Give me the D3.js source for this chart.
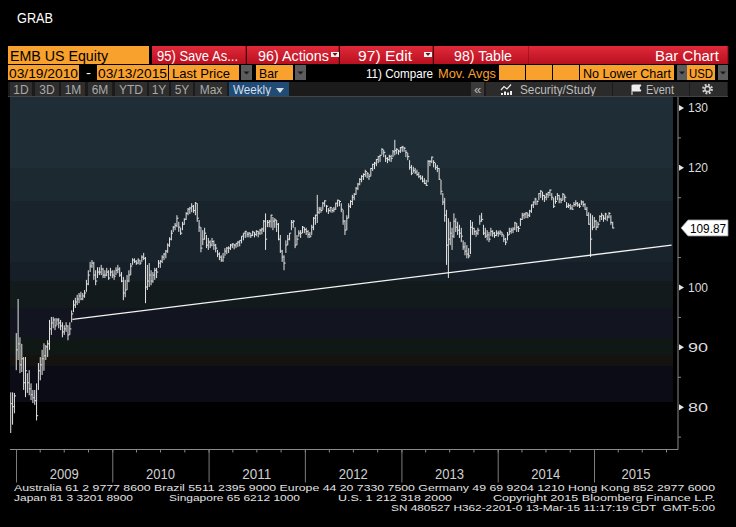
<!DOCTYPE html>
<html><head><meta charset="utf-8">
<script src="https://cdn.jsdelivr.net/npm/d3@7"></script>
<style>
html,body{margin:0;padding:0;background:#000;}
svg{display:block;}
text{font-family:"Liberation Sans",Arial,sans-serif;}
</style></head>
<body>
<svg id="c" width="736" height="527"></svg>
<script>
// ---------------- DATA ----------------
const firstWeek = "2008-12-12";   // weekly bars (Fridays)
const highs = [
82.4,82.4,82.3,92.3,98.0,91.6,90.5,88.3,88.3,85.6,
86.1,83.9,82.8,82.8,83.9,87.3,88.3,89.5,90.6,90.3,
91.1,94.5,95.0,95.0,94.8,94.8,94.8,94.5,94.1,93.6,
94.1,93.6,94.1,96.1,97.8,98.2,98.7,99.0,99.2,99.0,
99.5,101.2,102.8,104.2,104.5,104.2,102.8,103.3,103.3,103.7,
103.2,102.8,103.2,102.8,103.2,102.8,102.8,103.3,103.7,103.3,
102.5,101.7,101.2,102.0,102.8,104.0,104.8,104.8,104.5,104.8,
104.5,105.3,105.7,105.0,103.7,104.0,102.8,102.5,103.2,103.2,
104.5,104.5,105.3,105.7,106.2,107.3,108.3,109.5,110.2,110.7,
112.0,110.9,109.9,110.9,111.5,112.5,113.2,113.4,114.0,113.7,
114.2,114.0,111.2,110.0,109.5,109.9,108.7,108.2,107.8,108.2,
107.8,107.2,106.2,105.8,105.3,105.7,106.5,106.7,106.8,107.2,
107.3,107.2,107.3,107.7,107.8,108.5,109.0,109.4,109.2,109.2,
109.0,109.4,109.2,109.5,109.4,109.7,109.9,111.2,112.3,111.2,
111.2,112.1,111.7,111.5,111.2,110.7,108.7,106.2,105.3,107.8,
108.7,109.0,111.2,111.2,110.0,108.7,109.5,109.5,110.2,110.0,
109.9,109.5,109.2,110.4,111.7,112.1,115.4,113.4,113.4,114.2,
114.5,113.7,113.2,113.4,113.2,113.4,114.1,114.6,114.5,114.0,
112.9,111.2,112.0,114.0,114.5,115.4,115.7,116.7,117.4,118.2,
118.7,119.0,119.6,119.2,118.9,119.9,120.6,120.9,121.4,121.9,
122.1,123.2,122.9,122.1,121.7,122.1,122.1,122.9,124.6,123.2,
122.9,123.4,123.6,123.4,122.9,122.4,121.2,120.4,120.1,119.9,
119.6,119.2,118.7,118.6,118.2,117.9,121.2,121.2,121.8,121.2,
120.7,120.4,119.9,117.9,115.7,114.9,112.9,111.5,110.9,109.9,
112.3,111.5,110.9,110.4,109.9,107.8,107.5,107.0,106.5,111.2,
110.9,109.9,109.5,109.9,112.0,112.4,110.4,109.9,109.5,109.2,
109.9,109.5,109.2,109.5,109.4,109.5,109.2,108.7,108.2,109.2,
109.9,109.9,110.0,110.9,110.7,110.2,111.5,112.4,112.4,112.5,
112.4,112.9,113.8,114.3,114.9,114.5,115.7,116.2,115.9,115.4,
115.7,115.9,116.3,115.7,114.9,115.2,115.7,115.4,114.9,115.7,
115.4,114.2,114.0,113.9,113.7,114.2,114.5,114.2,114.0,114.5,
114.4,114.0,113.4,112.5,112.3,112.0,111.7,111.2,110.9,112.0,
112.4,112.0,112.4,112.0,112.5,112.0,110.9];
const lows = [
75.6,77.0,78.9,86.1,87.8,85.6,85.8,82.8,81.6,82.3,
81.9,81.1,80.6,80.3,77.7,82.8,84.4,85.3,86.0,87.8,
88.3,89.5,92.0,93.1,92.8,93.6,93.1,92.8,91.6,92.0,
92.5,91.1,92.0,94.1,95.8,96.5,97.0,97.3,97.8,97.8,
98.2,99.2,100.3,102.5,103.2,101.2,100.3,101.5,102.0,102.0,
101.5,101.5,101.8,101.2,101.8,101.5,101.2,102.0,102.3,101.7,
100.8,97.8,98.3,99.5,100.8,102.0,103.7,104.0,103.7,103.8,
103.7,104.2,104.5,97.3,99.5,100.0,100.3,100.7,101.2,101.5,
103.2,103.2,104.0,104.5,104.8,105.7,106.7,107.8,109.2,109.5,
110.0,109.2,108.7,109.5,110.4,111.2,112.0,112.2,112.5,112.4,
112.0,110.9,109.2,105.8,107.0,107.9,106.5,106.2,106.5,106.8,
106.2,105.8,105.0,104.5,104.2,104.2,105.2,105.5,105.7,106.2,
106.5,106.3,106.5,106.7,106.8,107.3,107.8,108.2,108.3,108.3,
108.2,108.5,108.3,108.5,108.3,108.7,108.8,109.2,106.2,110.0,
110.0,109.9,109.5,109.9,109.2,107.8,105.7,104.2,102.8,105.7,
107.0,107.8,109.5,109.9,106.5,107.0,108.4,108.2,109.0,109.0,
108.7,108.2,108.2,108.7,109.5,110.4,110.7,112.2,112.4,112.9,
113.4,112.5,112.2,112.5,112.4,112.5,112.9,113.4,113.5,112.5,
110.4,108.7,109.5,111.5,113.2,113.7,114.5,115.4,116.2,117.0,
117.5,117.9,118.4,118.2,117.9,118.5,119.4,119.7,120.2,120.7,
120.9,122.1,121.7,120.9,120.7,121.0,120.9,121.7,122.0,122.2,
122.1,122.4,122.6,122.6,121.7,121.2,119.6,118.7,119.1,118.9,
118.6,118.2,117.9,117.5,117.2,116.9,117.5,120.2,120.7,120.0,
119.6,119.2,117.9,115.4,113.7,110.9,103.7,101.5,107.0,106.2,
108.2,109.2,108.7,108.2,107.5,106.2,105.3,104.8,104.8,105.5,
108.7,108.7,108.4,108.7,110.4,110.9,108.7,108.2,107.8,107.5,
108.5,108.4,108.2,108.5,108.4,108.7,108.4,107.5,107.0,107.8,
108.7,108.9,109.0,109.5,109.2,109.2,110.2,111.2,111.4,111.5,
111.5,111.7,112.4,113.2,113.7,113.7,114.5,114.9,114.5,114.2,
114.5,114.9,115.2,114.5,113.2,113.9,114.5,114.0,114.0,114.5,
114.2,113.2,113.2,112.9,112.9,113.4,113.5,113.4,113.2,113.7,
113.4,112.9,111.9,110.4,105.0,109.5,109.9,109.5,109.9,110.9,
111.2,110.9,111.2,111.0,111.5,110.4,109.8];
const closes = [
80.5,80.0,81.8,89.5,90.5,87.0,88.0,84.0,86.0,84.0,
83.0,82.0,81.5,81.0,78.5,86.0,87.0,88.0,88.5,90.0,
90.5,93.0,94.0,94.5,93.5,94.5,94.0,93.5,92.5,93.0,
93.5,92.0,93.0,95.5,97.0,97.5,98.0,98.5,98.0,98.5,
99.0,100.5,102.0,103.5,104.0,102.0,101.0,102.5,102.5,103.0,
102.0,102.0,102.5,101.5,102.5,102.0,101.8,102.8,103.0,102.0,
101.0,99.0,99.5,101.0,102.0,103.5,104.5,104.3,104.0,104.5,
104.0,105.0,104.8,100.0,101.0,102.0,101.0,102.0,102.8,102.5,
104.0,104.3,105.0,105.5,106.0,107.0,108.0,109.0,110.0,110.3,
111.5,110.0,109.0,110.5,111.3,112.3,113.0,113.2,113.5,112.8,
114.0,111.5,110.0,106.5,108.0,109.0,107.0,107.5,107.0,107.6,
107.0,106.5,105.5,105.0,104.5,105.0,106.0,106.5,106.5,107.0,
107.2,107.0,107.3,107.5,107.8,108.5,109.0,109.3,108.8,109.0,
108.6,109.2,108.8,109.3,109.0,109.5,109.7,111.0,108.0,110.8,
111.0,112.0,111.0,111.2,110.5,108.0,106.0,105.0,104.0,107.0,
108.0,109.0,110.8,111.0,107.0,108.0,109.0,109.0,110.0,109.6,
109.3,108.8,108.5,110.0,111.5,112.0,112.5,113.0,112.8,114.0,
114.4,113.5,112.8,113.3,112.8,113.0,114.0,114.5,114.3,113.0,
111.0,109.5,111.5,113.5,114.3,115.0,115.5,116.5,117.2,118.0,
118.5,118.8,119.3,119.0,118.5,119.8,120.5,120.7,121.3,121.8,
122.0,123.0,122.5,121.5,121.3,121.8,121.5,122.6,122.8,123.0,
122.7,123.3,123.4,123.2,122.5,121.8,120.0,119.0,119.5,119.2,
118.8,118.5,118.2,117.7,117.3,117.0,121.0,121.0,121.7,120.8,
120.0,119.8,118.0,116.0,114.2,112.0,107.0,108.0,109.0,108.5,
111.0,110.0,109.5,109.0,108.5,106.7,106.0,105.5,105.2,110.0,
109.8,109.3,109.0,109.5,111.0,111.3,109.0,108.5,108.7,108.0,
109.3,109.0,108.6,109.0,109.0,109.2,108.8,108.0,107.5,108.7,
109.3,109.5,109.7,110.7,110.0,109.8,111.3,112.0,112.2,112.4,
112.0,112.7,113.7,114.2,114.7,114.3,115.6,116.0,115.3,115.0,
115.5,115.8,116.2,115.0,113.5,114.3,115.3,114.7,114.5,115.5,
115.0,113.5,113.6,113.2,113.0,113.8,114.0,113.7,113.5,114.2,
113.8,113.0,112.0,110.5,108.0,110.0,111.0,110.0,110.5,111.8,
112.0,111.5,112.2,111.7,112.3,110.8,109.87];
const trendDates = ["2009-08-03", "2015-10-22"];
const trendValues = [94.6, 107.0];
const lastPrice = 109.87;
const priceTicks = [80, 90, 100, 110, 120, 130];
const minorPriceTicks = [75, 85, 95, 105, 115, 125];
const yearLabels = ["2009", "2010", "2011", "2012", "2013", "2014", "2015"];

// ---------------- SETUP ----------------
const svg = d3.select("#c");
const parse = d3.timeParse("%Y-%m-%d");
const start = parse(firstWeek);
const n = Math.min(highs.length, lows.length, closes.length);
const bars = d3.range(n).map(i => ({
  date: d3.timeDay.offset(start, 7 * i), h: highs[i], l: lows[i], c: closes[i]
}));

const x = d3.scaleTime().domain([new Date(2009, 0, 1), new Date(2015, 0, 1)]).range([16, 594]);
const y = d3.scaleLinear().domain([80, 130]).range([406.7, 107.5]);

const plotL = 10, plotR = 673, axisX = 678, axisY = 449.5;

svg.append("rect").attr("width", 736).attr("height", 527).attr("fill", "#000");

// background bands
const bands = [
  [97, 168, "#1f2d36"], [168, 201, "#1c2931"], [201, 262, "#19232c"],
  [262, 281, "#161e27"], [281, 308, "#131a1b"], [308, 338, "#12141f"],
  [338, 355, "#101816"], [355, 366, "#141310"], [366, 402, "#0b0c16"]
];
svg.append("g").selectAll("rect").data(bands).join("rect")
  .attr("x", plotL).attr("width", plotR - plotL)
  .attr("y", d => d[0]).attr("height", d => d[1] - d[0]).attr("fill", d => d[2]);

// ---------------- HEADER ----------------
const defs = svg.append("defs");
const rg = defs.append("linearGradient").attr("id", "red").attr("x1", 0).attr("x2", 0).attr("y1", 0).attr("y2", 1);
rg.append("stop").attr("offset", "0%").attr("stop-color", "#e12a3a");
rg.append("stop").attr("offset", "100%").attr("stop-color", "#b8101f");

function txt(t, xx, yy, opt = {}) {
  const e = svg.append("text").attr("x", xx).attr("y", yy).text(t)
    .attr("font-size", opt.size || 14).attr("fill", opt.fill || "#fff")
    .style("white-space", "pre");
  if (opt.len) e.attr("textLength", opt.len).attr("lengthAdjust", "spacingAndGlyphs");
  if (opt.anchor) e.attr("text-anchor", opt.anchor);
  return e;
}
function box(x0, y0, x1, y1, fill) {
  return svg.append("rect").attr("x", x0).attr("y", y0).attr("width", x1 - x0).attr("height", y1 - y0).attr("fill", fill);
}
function ddBtn(x0, x1, y0, y1) {
  box(x0, y0, x1, y1, "#5c5c5c");
  const cx = (x0 + x1) / 2, cy = (y0 + y1) / 2;
  svg.append("path").attr("d", `M${cx - 3},${cy - 1}L${cx + 3},${cy - 1}L${cx},${cy + 2}Z`).attr("fill", "#1a1a1a");
}
function whiteDD(x0, y0) {
  box(x0, y0, x0 + 8, y0 + 5, "#f2f2f2");
  svg.append("path").attr("d", `M${x0 + 1.5},${y0 + 1}L${x0 + 6.5},${y0 + 1}L${x0 + 4},${y0 + 4}Z`).attr("fill", "#7a0c15");
}

const ORANGE = "#f9a12d";
txt("GRAB", 17, 23, { size: 15, len: 36 });

// row 1
box(8, 46, 149, 64, ORANGE);
txt("EMB US Equity", 10, 60.5, { size: 15, fill: "#000", len: 98 });
[[152, 246], [247, 339], [340, 433], [434, 529], [529, 728]].forEach(b => {
  box(b[0], 46, b[1], 64, "url(#red)");
  svg.append("line").attr("x1", b[1]).attr("x2", b[1]).attr("y1", 46).attr("y2", 64).attr("stroke", "#7e0a14");
});
txt("95) Save As...", 157, 60.5, { size: 15, len: 81 });
txt("96) Actions", 258, 60.5, { size: 15, len: 71 });
whiteDD(331, 52);
txt("97) Edit", 358, 60.5, { size: 15, len: 54 });
whiteDD(424, 52);
txt("98) Table", 454, 60.5, { size: 15, len: 58 });
txt("Bar Chart", 655, 60.5, { size: 15, len: 64 });

// row 2
box(8, 65, 79, 80, ORANGE);
txt("03/19/2010", 9, 77.5, { size: 13.5, fill: "#000", len: 69 });
txt("-", 86, 77, { size: 13, len: 5 });
box(97, 65, 168, 80, ORANGE);
txt("03/13/2015", 98, 77.5, { size: 13.5, fill: "#000", len: 69 });
box(169, 65, 239, 80, ORANGE);
txt("Last Price", 172, 77.5, { size: 13.5, fill: "#000", len: 58 });
ddBtn(241, 252, 65, 80);
box(256, 65, 293, 80, ORANGE);
txt("Bar", 259, 77.5, { size: 13.5, fill: "#000", len: 19 });
ddBtn(295, 306, 65, 80);
txt("11) Compare", 366, 77.5, { size: 13.5, len: 67 });
txt("Mov. Avgs", 438, 77.5, { size: 13.5, fill: ORANGE, len: 58 });
box(499, 65, 525, 80, ORANGE); box(526, 65, 552, 80, ORANGE); box(553, 65, 579, 80, ORANGE);
box(580, 65, 674, 80, ORANGE);
txt("No Lower Chart", 583, 77.5, { size: 13.5, fill: "#000", len: 88 });
ddBtn(677, 687, 65, 80);
box(687, 65, 715, 80, ORANGE);
txt("USD", 689, 77.5, { size: 13.5, fill: "#000", len: 24 });
ddBtn(718, 728, 65, 80);

// row 3
box(8, 82, 728, 97, "#1b1b1b");
const btns = [["1D", 10, 32], ["3D", 35, 59], ["1M", 61, 85], ["6M", 88, 112], ["YTD", 115, 147],
  ["1Y", 149, 169], ["5Y", 171, 193], ["Max", 195, 227]];
btns.forEach(b => {
  box(b[1], 82, b[2], 96, "#2e2e2e");
  txt(b[0], (b[1] + b[2]) / 2, 93.5, { size: 12, fill: "#a9a9a9", anchor: "middle" });
});
box(229, 82, 289, 96, "#1f4b75");
txt("Weekly", 233, 93.5, { size: 12, fill: "#d6dde6", len: 38 });
svg.append("path").attr("d", "M276,88L284,88L280,93Z").attr("fill", "#d6dde6");
box(471, 82, 484, 96, "#3a3a3a");
txt("«", 477.5, 93.5, { size: 13, fill: "#bbb", anchor: "middle" });
box(486, 82, 612, 96, "#2b2b2b");
svg.append("path").attr("d", "M501,90L504,86.5L507,89L511,84.5").attr("fill", "none").attr("stroke", "#eee").attr("stroke-width", 1.2);
[[501, 2], [504, 3.5], [507, 2.5], [510, 4]].forEach(d => box(d[0], 95 - d[1], d[0] + 2, 95, "#eee"));
txt("Security/Study", 520, 93.5, { size: 12.5, fill: "#bdbdbd", len: 76 });
box(613, 82, 689, 96, "#2b2b2b");
svg.append("path").attr("d", "M632,85V95M632.5,85H641L639,88L641,91H632.5Z").attr("fill", "#eee").attr("stroke", "#eee").attr("stroke-width", 1);
txt("Event", 646, 93.5, { size: 12.5, fill: "#bdbdbd", len: 28 });
box(690, 82, 727, 96, "#2b2b2b");
svg.append("circle").attr("cx", 707.5).attr("cy", 89).attr("r", 4.2).attr("fill", "none").attr("stroke", "#cfcfcf").attr("stroke-width", 2.4).attr("stroke-dasharray", "1.8,1.5");
svg.append("circle").attr("cx", 707.5).attr("cy", 89).attr("r", 2.6).attr("fill", "none").attr("stroke", "#cfcfcf").attr("stroke-width", 1.5);
svg.append("line").attr("x1", 8).attr("x2", 728).attr("y1", 96.5).attr("y2", 96.5).attr("stroke", "#444");

// ---------------- BARS ----------------
svg.append("g").selectAll("path").data(bars).join("path")
  .attr("d", d => {
    const xx = x(d.date);
    return `M${xx},${y(d.h)}V${y(d.l)}M${xx},${y(d.c)}H${xx + 1.6}`;
  })
  .attr("fill", "none")
  .attr("stroke", "#e4e4e4").attr("stroke-width", 1);

// trendline
svg.append("line")
  .attr("x1", x(parse(trendDates[0]))).attr("y1", y(trendValues[0]))
  .attr("x2", x(parse(trendDates[1]))).attr("y2", y(trendValues[1]))
  .attr("stroke", "#f4f4f4").attr("stroke-width", 1.4);

// ---------------- AXES ----------------
svg.append("line").attr("x1", axisX).attr("x2", axisX).attr("y1", 97).attr("y2", axisY).attr("stroke", "#8a8a8a");
svg.append("line").attr("x1", plotL).attr("x2", axisX).attr("y1", axisY).attr("y2", axisY).attr("stroke", "#8a8a8a");

// y axis labels (the 110 label sits under the last-price flag in the reference, so it is hidden)
const ly = y(lastPrice);
const visibleTicks = priceTicks.filter(v => Math.abs(y(v) - ly) > 12);
const yAxis = d3.axisRight(y).tickValues(visibleTicks).tickSize(0).tickPadding(10).tickFormat(d3.format("d"));
const yg = svg.append("g").attr("transform", `translate(${axisX},0)`).call(yAxis);
yg.select(".domain").remove();
yg.selectAll("text").attr("fill", "#dcdcdc").attr("font-size", 13.5)
  .attr("font-family", "'Liberation Sans',Arial,sans-serif").attr("x", 10)
  .attr("textLength", 20).attr("lengthAdjust", "spacingAndGlyphs");
yg.selectAll(".tick").append("path").attr("d", "M1,-3L6,0L1,3Z").attr("fill", "#e6e6e6");

const yMinor = d3.axisRight(y).tickValues(minorPriceTicks).tickSize(3).tickFormat("");
const ymg = svg.append("g").attr("transform", `translate(${axisX},0)`).call(yMinor);
ymg.select(".domain").remove();
ymg.selectAll("line").attr("stroke", "#8a8a8a");

// x axis: quarter ticks
const quarterTicks = d3.timeMonth.every(3).range(new Date(2009, 0, 1), new Date(2016, 0, 1)).filter(d => x(d) <= axisX - 2);
const xq = svg.append("g").attr("transform", `translate(0,${axisY})`)
  .call(d3.axisBottom(x).tickValues(quarterTicks).tickSize(3).tickFormat(""));
xq.select(".domain").remove();
xq.selectAll("line").attr("stroke", "#8a8a8a");
// year separators
const yearStarts = yearLabels.map(s => new Date(+s, 0, 1));
const xy = svg.append("g").attr("transform", `translate(0,${axisY})`)
  .call(d3.axisBottom(x).tickValues(yearStarts).tickSize(33).tickFormat(""));
xy.select(".domain").remove();
xy.selectAll("line").attr("stroke", "#7d7d7d");
// year labels, centered in each year span
svg.append("g").selectAll("text").data(yearLabels).join("text")
  .attr("x", s => {
    const a = x(new Date(+s, 0, 1));
    const b = Math.min(x(new Date(+s + 1, 0, 1)), axisX);
    return (a + b) / 2;
  })
  .attr("y", 479).attr("text-anchor", "middle")
  .attr("font-size", 14).attr("fill", "#cfcfcf")
  .attr("textLength", 29).attr("lengthAdjust", "spacingAndGlyphs")
  .text(s => s);

// last price flag
svg.append("path")
  .attr("d", `M${axisX + 3},${ly}L${axisX + 10},${ly - 8}H728V${ly + 8}H${axisX + 10}Z`)
  .attr("fill", "#fff").attr("stroke", "#9a9a9a").attr("stroke-width", 0.8);
svg.append("text").attr("x", axisX + 12).attr("y", ly + 4.7).text(d3.format(".2f")(lastPrice))
  .attr("font-size", 13).attr("fill", "#000").attr("textLength", 36).attr("lengthAdjust", "spacingAndGlyphs");

// ---------------- FOOTER ----------------
const FC = "#e2e2e2", FS = 8.6;
txt("Australia 61 2 9777 8600 Brazil 5511 2395 9000 Europe 44 20 7330 7500 Germany 49 69 9204 1210 Hong Kong 852 2977 6000", 14, 491, { size: FS, fill: FC, len: 701 });
txt("Japan 81 3 3201 8900", 14, 501, { size: FS, fill: FC, len: 119 });
txt("Singapore 65 6212 1000", 169, 501, { size: FS, fill: FC, len: 131 });
txt("U.S. 1 212 318 2000", 338, 501, { size: FS, fill: FC, len: 114 });
txt("Copyright 2015 Bloomberg Finance L.P.", 493, 501, { size: FS, fill: FC, len: 222 });
txt("SN 480527 H362-2201-0 13-Mar-15 11:17:19 CDT  GMT-5:00", 391, 511, { size: FS, fill: FC, len: 324 });
</script>
</body></html>
